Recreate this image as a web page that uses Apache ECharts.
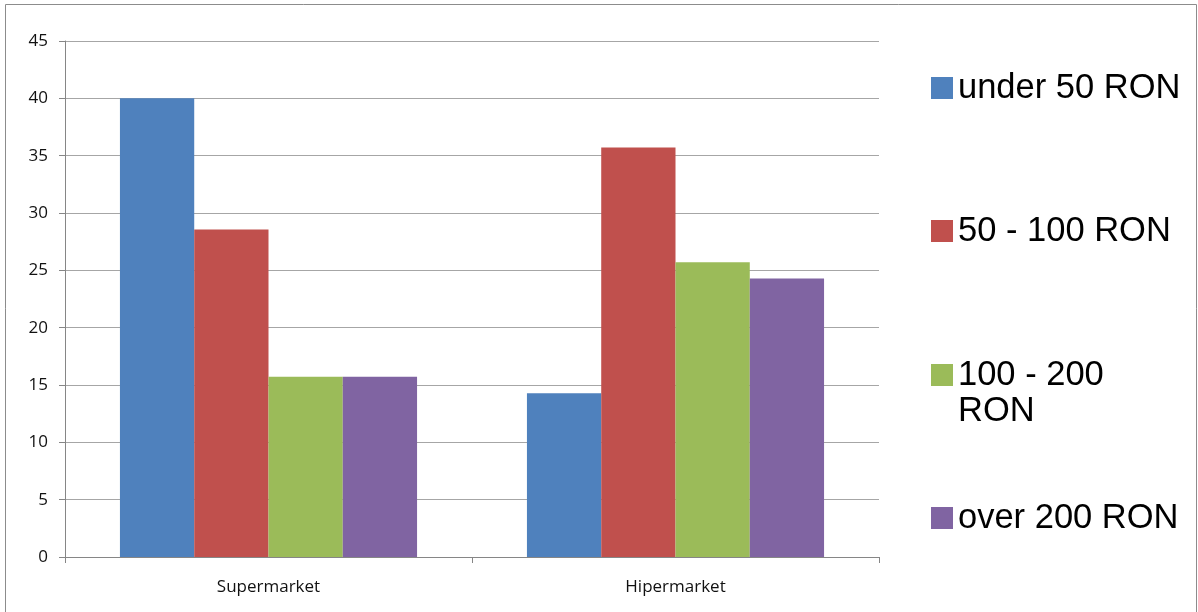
<!DOCTYPE html>
<html>
<head>
<meta charset="utf-8">
<script src="https://cdn.jsdelivr.net/npm/echarts@6/dist/echarts.min.js"></script>
<style>html,body{margin:0;padding:0;background:#fff;}#c{width:1198px;height:612px;}</style>
</head>
<body>
<div id="c"></div>
<script>
const categories = ['Supermarket', 'Hipermarket'];
const seriesNames = ['under 50 RON', '50 - 100 RON', '100 - 200 RON', 'over 200 RON'];
const under50 = [40, 14.29];
const from50to100 = [28.57, 35.71];
const from100to200 = [15.71, 25.71];
const over200 = [15.71, 24.29];
const yTicks = [0, 5, 10, 15, 20, 25, 30, 35, 40, 45];

const colors = ['#4F81BD', '#C0504D', '#9BBB59', '#8064A2'];
const values = [under50, from50to100, from100to200, over200];
const legendTops = [70, 213, 321, 500];

const chart = echarts.init(document.getElementById('c'));
const legendFont = { fontFamily: 'Liberation Sans, Arial, sans-serif', fontSize: 34.5, color: '#000', lineHeight: 36 };

chart.setOption({
  animation: false,
  color: colors,
  graphic: [{
    type: 'rect', shape: { x: 5.5, y: 4.5, width: 1191, height: 620 },
    style: { fill: 'none', stroke: '#8c8c8c', lineWidth: 1 }, z: -1, silent: true
  }],
  grid: { left: 65, top: 41, right: 319, bottom: 55 },
  legend: seriesNames.map((n, i) => ({
    data: [n], left: 931, top: legendTops[i], padding: 0, orient: 'vertical',
    itemWidth: 22, itemHeight: 22, icon: 'rect', selectedMode: false,
    formatter: i === 2 ? '\n100 - 200\nRON' : '{name}',
    textStyle: legendFont
  })),
  xAxis: {
    type: 'category', data: categories,
    axisLine: { lineStyle: { color: '#868686', width: 1 } },
    axisTick: { show: true, length: 6, lineStyle: { color: '#868686' } },
    axisLabel: { color: '#111', fontFamily: 'Open Sans, sans-serif', fontSize: 17, margin: 22 }
  },
  yAxis: {
    type: 'value', min: yTicks[0], max: yTicks[yTicks.length - 1], interval: 5,
    axisLine: { show: true, lineStyle: { color: '#868686', width: 1 } },
    axisTick: { show: true, length: 6, lineStyle: { color: '#868686' } },
    splitLine: { lineStyle: { color: '#a6a6a6', width: 1 } },
    axisLabel: { color: '#111', fontFamily: 'Open Sans, sans-serif', fontSize: 17, margin: 17 }
  },
  series: seriesNames.map((n, i) => ({
    name: n, type: 'bar', data: values[i],
    barGap: '0%', barCategoryGap: '27%',
    itemStyle: { color: colors[i] }
  }))
});
</script>
</body>
</html>
